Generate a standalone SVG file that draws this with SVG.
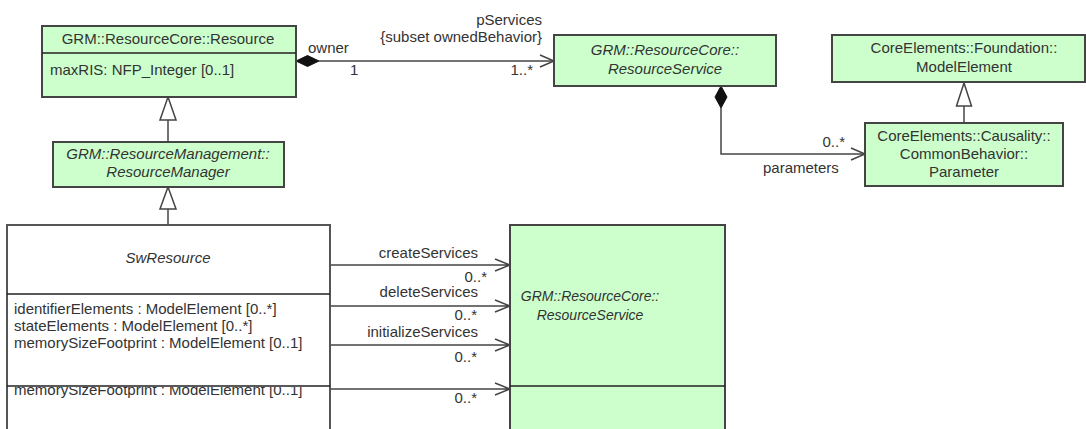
<svg xmlns="http://www.w3.org/2000/svg" width="1086" height="429" viewBox="0 0 1086 429">
<style>
text{font-family:"Liberation Sans",Arial,sans-serif;font-size:15px;fill:#333}
.c{text-anchor:middle}
.r{text-anchor:end}
.i{font-style:italic}
.s{font-size:14px}
.g{fill:#ccffcc;stroke:#444;stroke-width:2}
.w{fill:#fff;stroke:#555;stroke-width:2}
.sep{stroke:#222;stroke-width:1.5}
.ln{fill:none;stroke:#444;stroke-width:1.5}
.tri{fill:#fff;stroke:#444;stroke-width:1.5}
.dia{fill:#111;stroke:#111;stroke-width:1}
</style>
<defs>
<clipPath id="swclip"><rect x="8" y="387" width="320" height="50"/></clipPath>
</defs>
<rect width="1086" height="429" fill="#fff"/>
<g id="connectors">
<path class="ln" d="M319 61H554"/>
<path class="ln" d="M540 55L554 61L540 67"/>
<polygon class="dia" points="296,61 307.5,55.5 319,61 307.5,66.5"/>
<path class="ln" d="M168 120V142"/>
<polygon class="tri" points="168,97 176,120 160,120"/>
<path class="ln" d="M168 209V225"/>
<polygon class="tri" points="168,187 176,209 160,209"/>
<path class="ln" d="M964 106V123"/>
<polygon class="tri" points="964,83 971.5,106 956.5,106"/>
<path class="ln" d="M721 108V154H865"/>
<path class="ln" d="M851 148L865 154L851 160"/>
<polygon class="dia" points="721,86 727,97 721,108 715,97"/>
<path class="ln" d="M330 265H510M495 259L510 265L495 271"/>
<path class="ln" d="M330 306H510M495 300L510 306L495 312"/>
<path class="ln" d="M330 345H510M495 339L510 345L495 351"/>
<path class="ln" d="M330 389H510M495 383L510 389L495 395"/>
<text x="308" y="53">owner</text>
<text x="350" y="75">1</text>
<text class="r" x="533" y="75">1..*</text>
<text class="r" x="542" y="25">pServices</text>
<text class="r" x="542" y="42">{subset ownedBehavior}</text>
<text class="r" x="845" y="147">0..*</text>
<text x="763" y="173">parameters</text>
<text class="r" x="478" y="258">createServices</text>
<text class="r" x="487" y="282">0..*</text>
<text class="r" x="478" y="297">deleteServices</text>
<text class="r" x="477" y="320">0..*</text>
<text class="r" x="478" y="337">initializeServices</text>
<text class="r" x="477" y="362">0..*</text>
<text class="r" x="477" y="403">0..*</text>
</g>
<g id="resource">
<rect class="g" x="42" y="26" width="254" height="71"/>
<line class="sep" x1="42" y1="53" x2="296" y2="53"/>
<text class="c" x="168" y="44">GRM::ResourceCore::Resource</text>
<text x="50" y="75">maxRIS: NFP_Integer [0..1]</text>
</g>
<g id="resourceManager">
<rect class="g" x="53" y="142" width="231" height="45"/>
<text class="c i" x="168" y="159">GRM::ResourceManagement::</text>
<text class="c i" x="168" y="177">ResourceManager</text>
</g>
<g id="resourceServiceTop">
<rect class="g" x="554" y="35" width="222" height="51"/>
<text class="c i" x="665" y="55">GRM::ResourceCore::</text>
<text class="c i" x="665" y="74">ResourceService</text>
</g>
<g id="modelElement">
<rect class="g" x="832" y="35" width="253" height="47"/>
<text class="c" x="964" y="53">CoreElements::Foundation::</text>
<text class="c" x="964" y="72">ModelElement</text>
</g>
<g id="parameter">
<rect class="g" x="865" y="123" width="198" height="63"/>
<text class="c" x="964" y="141">CoreElements::Causality::</text>
<text class="c" x="964" y="159">CommonBehavior::</text>
<text class="c" x="964" y="177">Parameter</text>
</g>
<g id="swResource">
<rect class="w" x="7" y="225" width="323" height="220"/>
<line class="sep" x1="7" y1="294" x2="330" y2="294"/>
<line class="sep" x1="7" y1="386" x2="330" y2="386"/>
<text class="c i" x="168" y="263">SwResource</text>
<text x="14" y="314">identifierElements : ModelElement [0..*]</text>
<text x="14" y="331">stateElements : ModelElement [0..*]</text>
<text x="14" y="348">memorySizeFootprint : ModelElement [0..1]</text>
<text x="14" y="395" clip-path="url(#swclip)">memorySizeFootprint : ModelElement [0..1]</text>
</g>
<g id="resourceServiceBig">
<rect class="g" x="510" y="225" width="215" height="220"/>
<line class="sep" x1="510" y1="386" x2="725" y2="386"/>
<text class="c i s" x="590" y="301">GRM::ResourceCore::</text>
<text class="c i s" x="590" y="320">ResourceService</text>
</g>
</svg>
